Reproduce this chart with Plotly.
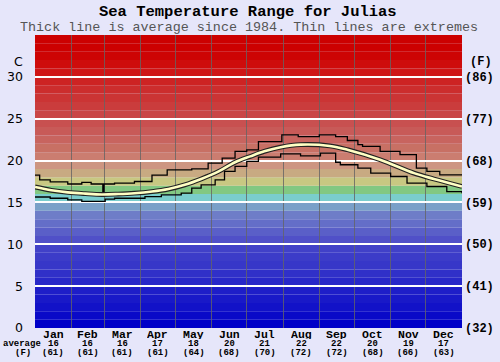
import numpy as np
import plotly.graph_objects as go

# ---------------- data ----------------
months = ["Jan", "Feb", "Mar", "Apr", "May", "Jun", "Jul", "Aug", "Sep", "Oct", "Nov", "Dec"]
month_days = [31, 28, 31, 30, 31, 30, 31, 31, 30, 31, 30, 31]
avg_c = [16, 16, 16, 17, 18, 20, 21, 22, 22, 20, 19, 17]
avg_f = [61, 61, 61, 61, 64, 68, 70, 72, 72, 68, 66, 63]

# average curve (day of year, deg C)
avg_day = [0, 14, 28, 43, 57, 71, 85, 100, 114, 128, 142, 157, 171, 184, 196, 210, 227, 252, 267, 295, 324, 341, 365]
avg_val = [16.85, 16.45, 16.2, 16.05, 15.95, 16.0, 16.1, 16.3, 16.6, 17.1, 17.8, 18.7, 19.8, 20.5, 21.1, 21.6, 21.9, 21.75, 21.3, 20.1, 18.5, 17.8, 16.9]

# maximum extreme (step starts)
max_day = [0, 4, 13, 28, 40, 48, 58, 59, 68, 85, 100, 113, 134, 148, 160, 171, 181, 191, 211, 225, 243, 257, 267, 276, 280, 295, 312, 326, 335, 346, 365]
max_val = [18.25, 17.7, 17.45, 17.2, 17.4, 17.2, 16.1, 17.2, 17.3, 17.5, 18.25, 18.9, 19.0, 19.7, 20.3, 21.1, 21.27, 22.27, 23.07, 22.87, 23.07, 22.87, 22.4, 21.9, 21.7, 21.1, 20.7, 19.1, 18.7, 18.3, 18.3]

# minimum extreme (step starts)
min_day = [0, 13, 28, 40, 60, 68, 94, 108, 125, 134, 142, 154, 162, 171, 181, 191, 210, 227, 244, 257, 261, 276, 287, 304, 318, 335, 352, 365]
min_val = [15.65, 15.5, 15.3, 15.12, 15.4, 15.5, 15.7, 15.9, 16.1, 16.7, 17.1, 17.7, 18.7, 19.3, 19.9, 20.4, 20.8, 20.56, 20.9, 19.8, 19.5, 19.1, 18.5, 18.1, 17.3, 16.9, 16.3, 16.1]

# background colour per 1-degree band, from 0 upwards
band_colors = [
    (0, 0, 200), (10, 10, 200), (18, 18, 200), (25, 25, 200), (30, 30, 200),
    (40, 40, 200), (48, 48, 200), (55, 55, 200), (60, 60, 200), (65, 65, 200),
    (80, 80, 200), (90, 95, 200), (100, 110, 200), (110, 125, 200), (122, 160, 200),
    (122, 205, 205), (130, 200, 130), (200, 200, 130), (200, 170, 130), (205, 150, 130),
    (203, 125, 112), (200, 112, 100), (200, 100, 95), (200, 90, 88), (200, 80, 80),
    (201, 70, 70), (202, 60, 60), (203, 52, 52), (204, 45, 45), (205, 35, 35),
    (207, 22, 22), (206, 12, 12), (205, 4, 4), (204, 0, 0), (204, 0, 0),
]

y_ticks_c = [0, 5, 10, 15, 20, 25, 30]
y_ticks_f = [32, 41, 50, 59, 68, 77, 86]

# ---------------- figure ----------------
bounds = np.concatenate([[0], np.cumsum(month_days)])
centers = (bounds[:-1] + bounds[1:]) / 2.0

fig = go.Figure()

for i, c in enumerate(band_colors):
    fig.add_shape(type="rect", xref="x", yref="y", x0=0, x1=365, y0=i, y1=i + 1,
                  fillcolor="rgb(%d,%d,%d)" % c, line=dict(width=0), layer="below")

fig.add_trace(go.Scatter(x=max_day, y=max_val, mode="lines", line=dict(color="black", width=1.3, shape="hv"),
                         hoverinfo="skip", showlegend=False))
fig.add_trace(go.Scatter(x=min_day, y=min_val, mode="lines", line=dict(color="black", width=1.3, shape="hv"),
                         hoverinfo="skip", showlegend=False))
fig.add_trace(go.Scatter(x=avg_day, y=avg_val, mode="lines", line=dict(color="#222", width=4.8, shape="spline"),
                         hoverinfo="skip", showlegend=False))
fig.add_trace(go.Scatter(x=avg_day, y=avg_val, mode="lines", line=dict(color="#FFFFC4", width=2.6, shape="spline"),
                         hoverinfo="skip", showlegend=False))
fig.add_trace(go.Scatter(x=[0], y=[32], yaxis="y2", mode="markers", marker=dict(opacity=0),
                         hoverinfo="skip", showlegend=False))

mono = "Liberation Mono, Courier New, monospace"
bg = "#E6E6FA"

W, H = 500, 362
l, r, t, b = 35, 38, 35, 34

fig.update_layout(
    width=W, height=H,
    paper_bgcolor=bg, plot_bgcolor=bg,
    margin=dict(l=l, r=r, t=t, b=b, autoexpand=False),
    xaxis=dict(range=[0, 365], tickvals=bounds[1:-1].tolist(), showticklabels=False,
               showgrid=True, gridcolor="rgba(100,100,100,0.8)", gridwidth=1, zeroline=False,
               showline=False, ticks="", automargin=False),
    yaxis=dict(range=[0, 35], tickvals=y_ticks_c, ticktext=[str(v) for v in y_ticks_c],
               showgrid=True, gridcolor="white", gridwidth=2, zeroline=False, ticks="",
               ticklabelstandoff=11, automargin=False,
               tickfont=dict(family="DejaVu Sans, Verdana, sans-serif", size=12.5, color="black")),
    yaxis2=dict(range=[32, 95], overlaying="y", side="right", tickvals=y_ticks_f,
                ticktext=["(%d)" % v for v in y_ticks_f], showgrid=False, zeroline=False, ticks="",
                ticklabelstandoff=2, automargin=False,
                tickfont=dict(family=mono, size=12, color="black", weight="bold")),
    showlegend=False,
)

# annotations given in pixel positions, converted to paper coordinates
ann = []
ann.append(dict(text="Sea Temperature Range for Julias", x=248, y=12, xref="paper", yref="paper",
                font=dict(family=mono, size=15.5, color="black", weight="bold")))
ann.append(dict(text="Thick line is average since 1984. Thin lines are extremes", x=248.5, y=27,
                xref="paper", yref="paper", font=dict(family=mono, size=13.4, color="#555")))
ann.append(dict(text="C", x=18, y=61, xref="paper", yref="paper",
                font=dict(family="DejaVu Sans, Verdana, sans-serif", size=12.5, color="black")))
ann.append(dict(text="(F)", x=481, y=62, xref="paper", yref="paper",
                font=dict(family=mono, size=12, color="black", weight="bold")))
for m, c_, f_, cx in zip(months, avg_c, avg_f, centers):
    ann.append(dict(text=m, x=cx, y=334, xref="x", yref="paper", height=10,
                    font=dict(family=mono, size=11.5, color="black", weight="bold")))
    ann.append(dict(text=str(c_), x=cx, y=343.5, xref="x", yref="paper", height=8,
                    font=dict(family=mono, size=9, color="black", weight="bold")))
    ann.append(dict(text="(%d)" % f_, x=cx, y=352.5, xref="x", yref="paper", height=8,
                    font=dict(family=mono, size=9, color="black", weight="bold")))
ann.append(dict(text="average", x=22, y=343.5, xref="paper", yref="paper", height=8,
                font=dict(family=mono, size=9, color="black", weight="bold")))
ann.append(dict(text="(F)", x=23, y=352.5, xref="paper", yref="paper", height=8,
                font=dict(family=mono, size=9, color="black", weight="bold")))

pw, ph = W - l - r, H - t - b
final = []
for a in ann:
    a = dict(a)
    if a["xref"] == "paper":
        a["x"] = (a["x"] - l) / pw
    if a["yref"] == "paper":
        a["y"] = (H - b - a["y"]) / ph
    a.update(showarrow=False, xanchor="center", yanchor="middle", borderpad=0)
    final.append(a)
fig.update_layout(annotations=final)

fig.write_html("out.html", config={"displayModeBar": False},
               post_script="document.body.style.margin='0';document.body.style.overflow='hidden';")
